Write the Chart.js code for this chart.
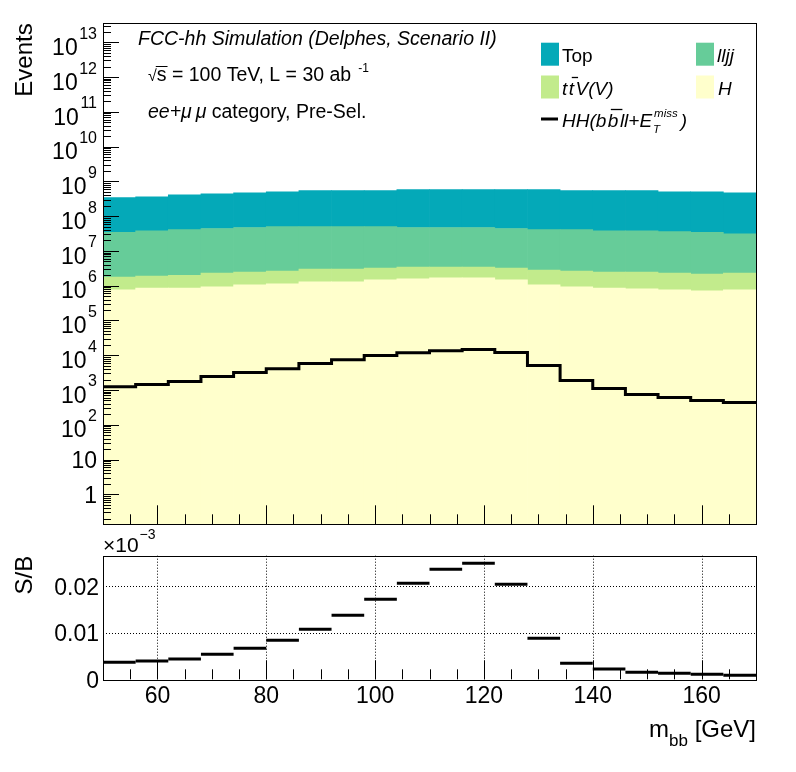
<!DOCTYPE html>
<html><head><meta charset="utf-8">
<script src="https://cdn.jsdelivr.net/npm/chart.js@4.4.0/dist/chart.umd.min.js"></script>
<style>
html,body{margin:0;padding:0;background:#fff;}
#wrap{position:relative;width:796px;height:772px;overflow:hidden;}
canvas{position:absolute;left:0;top:0;}
</style></head><body>
<div id="wrap">
<canvas id="topPanel" width="796" height="772"></canvas>
<canvas id="botPanel" width="796" height="772"></canvas>
</div>
<script>
// ---------- data ----------
const massBins = [53, 59, 65, 71, 77, 83, 89, 95, 101, 107, 113, 119, 125, 131, 137, 143, 149, 155, 161, 167];
const bkgHiggs = [7.6e5, 8.6e5, 8.6e5, 9.2e5, 1.05e6, 1.13e6, 1.29e6, 1.29e6, 1.47e6, 1.57e6, 1.68e6, 1.68e6, 1.47e6, 1.05e6, 9.2e5, 8.6e5, 8.1e5, 7.6e5, 7.1e5, 7.6e5];
const bkgTTV   = [1.0e6, 1.02e6, 1.14e6, 1.37e6, 1.40e6, 1.48e6, 1.69e6, 1.69e6, 1.72e6, 1.83e6, 1.72e6, 1.72e6, 1.72e6, 1.74e6, 1.69e6, 1.59e6, 1.64e6, 1.53e6, 1.43e6, 1.53e6];
const bkgLLJJ  = [3.22e7, 3.61e7, 3.9e7, 4.17e7, 4.46e7, 4.74e7, 4.7e7, 4.7e7, 4.68e7, 4.36e7, 4.36e7, 4.36e7, 4.08e7, 3.82e7, 3.84e7, 3.56e7, 3.56e7, 3.37e7, 3.19e7, 2.87e7];
const bkgTop   = [3.06e8, 3.22e8, 3.69e8, 3.96e8, 4.23e8, 4.5e8, 4.9e8, 4.9e8, 4.9e8, 5.33e8, 5.33e8, 5.33e8, 5.36e8, 5.39e8, 4.99e8, 5.02e8, 5.02e8, 4.64e8, 4.66e8, 4.39e8];
const signalHH = [1233, 1439, 1754, 2443, 3184, 4057, 5768, 7353, 9800, 11700, 13350, 14580, 11960, 5060, 1875, 1104, 743, 608, 499, 437];
const ratioSB  = [0.00366, 0.00394, 0.00437, 0.00538, 0.00667, 0.00839, 0.01075, 0.01376, 0.0172, 0.02065, 0.02366, 0.02495, 0.02043, 0.00882, 0.00344, 0.00222, 0.0015, 0.00129, 0.00108, 0.00086];

const xMajorTicks = [60, 80, 100, 120, 140, 160];
const xTickLabels = ['60', '80', '100', '120', '140', '160'];
const xMinorStep = 5;
const yDecadeExps = [0, 1, 2, 3, 4, 5, 6, 7, 8, 9, 10, 11, 12, 13];
const ratioTicks = [0, 0.01, 0.02];
const ratioTickLabels = ['0', '0.01', '0.02'];

const COL_TOP = '#04a9b8', COL_LLJJ = '#66cc99', COL_TTV = '#c2eb8c', COL_H = '#ffffcc';
const FONT = '"Liberation Sans", Arial, Helvetica, sans-serif';
const fnt = (sz, it) => (it ? 'italic ' : '') + sz + 'px ' + FONT;

function runs(ctx, x, y, parts) {
  for (const p of parts) {
    ctx.font = p.f;
    ctx.fillText(p.t, x + (p.dx || 0), y + (p.dy || 0));
    const w = ctx.measureText(p.t).width;
    if (p.bar) {
      ctx.save(); ctx.lineWidth = 1.3; ctx.beginPath();
      ctx.moveTo(x + (p.dx || 0) + 3, y - p.bar); ctx.lineTo(x + (p.dx || 0) + w + 4, y - p.bar); ctx.stroke(); ctx.restore();
    }
    x += w + (p.dx || 0) + (p.gap || 0);
  }
  return x;
}

const halfBin = (massBins[1] - massBins[0]) / 2;
const sigSteps = [{x: massBins[0] - halfBin, y: signalHH[0]}].concat(
  massBins.map((m, i) => ({x: m + halfBin, y: signalHH[i]})));

function xTicksList() {
  const out = [];
  for (let v = 50 + xMinorStep; v < 170; v += xMinorStep) out.push(v);
  return out;
}

// ---------- top panel decorations ----------
const topDecor = {
  id: 'topDecor',
  afterDatasetsDraw(chart) {
    const {ctx, chartArea: a, scales: {x, y}} = chart;
    ctx.save();
    ctx.strokeStyle = '#000'; ctx.fillStyle = '#000'; ctx.lineWidth = 1;
    ctx.beginPath();
    for (let e = -1; e <= 13; e++) for (let m = 1; m <= 9; m++) {
      const v = m * Math.pow(10, e);
      if (v < y.min || v > y.max) continue;
      const py = Math.round(y.getPixelForValue(v)) + 0.5;
      ctx.moveTo(a.left, py); ctx.lineTo(a.left + (m === 1 ? 16 : 8), py);
    }
    for (const v of xTicksList()) {
      const px = Math.round(x.getPixelForValue(v)) + 0.5;
      ctx.moveTo(px, a.bottom); ctx.lineTo(px, a.bottom - (xMajorTicks.includes(v) ? 19 : 10));
    }
    ctx.stroke();
    ctx.strokeRect(Math.round(a.left) + 0.5, Math.round(a.top) + 0.5, Math.round(a.right - a.left), Math.round(a.bottom - a.top));

    // y labels
    ctx.textAlign = 'right'; ctx.textBaseline = 'alphabetic';
    for (const e of yDecadeExps) {
      const py = y.getPixelForValue(Math.pow(10, e));
      if (e === 0 || e === 1) {
        ctx.font = fnt(23); ctx.fillText(e === 0 ? '1' : '10', 97, py + 8.3);
      } else {
        ctx.font = fnt(16); const es = String(e); const ew = ctx.measureText(es).width;
        ctx.fillText(es, 97, py - 3.5);
        ctx.font = fnt(23); ctx.fillText('10', 97 - ew - 1.5, py + 12.7);
      }
    }
    // axis title
    ctx.save(); ctx.translate(32, a.top); ctx.rotate(-Math.PI / 2);
    ctx.font = fnt(24); ctx.textAlign = 'right'; ctx.fillText('Events', 0, 0); ctx.restore();

    // info text
    ctx.textAlign = 'left';
    ctx.font = fnt(19.5, true); ctx.fillText('FCC-hh Simulation (Delphes, Scenario II)', 138, 45);
    ctx.font = fnt(16);
    ctx.fillText('\u221A', 148, 81);
    const rx = 148 + ctx.measureText('\u221A').width;
    ctx.font = fnt(19.5);
    ctx.fillText('s = 100 TeV, L = 30 ab', rx, 81);
    const sw = ctx.measureText('s').width;
    ctx.lineWidth = 1; ctx.beginPath(); ctx.moveTo(rx - 1, 66.5); ctx.lineTo(rx + sw + 1, 66.5); ctx.stroke();
    const ew2 = ctx.measureText('s = 100 TeV, L = 30 ab').width;
    ctx.font = fnt(12); ctx.fillText('-1', rx + ew2 + 7, 72);
    runs(ctx, 148, 118, [{t: 'ee+\u03BC\u2009\u03BC', f: fnt(19.5, true)}, {t: ' category, Pre-Sel.', f: fnt(19.5)}]);

    // legend
    const sw1 = 18, sh = 23;
    const rows = [54.2, 87, 119];
    ctx.fillStyle = COL_TOP; ctx.fillRect(541, rows[0] - sh / 2, sw1, sh);
    ctx.fillStyle = COL_LLJJ; ctx.fillRect(696, rows[0] - sh / 2, sw1, sh);
    ctx.fillStyle = COL_TTV; ctx.fillRect(541, rows[1] - sh / 2, sw1, sh);
    ctx.fillStyle = COL_H; ctx.fillRect(696, rows[1] - sh / 2, sw1, sh);
    ctx.fillStyle = '#000';
    ctx.lineWidth = 3; ctx.beginPath(); ctx.moveTo(541, rows[2]); ctx.lineTo(558, rows[2]); ctx.stroke();
    ctx.font = fnt(19); ctx.fillText('Top', 562, rows[0] + 7.5);
    ctx.font = fnt(19, true); ctx.fillText('lljj', 717, rows[0] + 7.5);
    ctx.fillText('H', 718, rows[1] + 7.5);
    runs(ctx, 562, rows[1] + 7.5, [
      {t: 't', f: fnt(19, true), gap: 1.5}, {t: 't', f: fnt(19, true), bar: 17, gap: 1.5}, {t: 'V(V)', f: fnt(19, true)}]);
    const b3 = rows[2] + 7.5;
    let xx = runs(ctx, 562, b3, [
      {t: 'HH(b', f: fnt(19, true), gap: 1.5}, {t: 'b', f: fnt(19, true), bar: 17, gap: 1.5}, {t: 'll+E', f: fnt(19, true), gap: 1}]);
    ctx.font = fnt(11.5, true); ctx.fillText('T', xx, b3 + 6);
    ctx.fillText('miss', xx + 1, b3 - 10);
    xx += ctx.measureText('miss').width + 4;
    ctx.font = fnt(19, true); ctx.fillText(')', xx, b3);
    ctx.restore();
  }
};

new Chart(document.getElementById('topPanel'), {
  type: 'bar',
  data: {
    datasets: [
      {label: 'H', data: massBins.map((m, i) => ({x: m, y: bkgHiggs[i]})), backgroundColor: COL_H, order: 1, stack: 'bkg'},
      {label: 'ttV(V)', data: massBins.map((m, i) => ({x: m, y: bkgTTV[i]})), backgroundColor: COL_TTV, order: 1, stack: 'bkg'},
      {label: 'lljj', data: massBins.map((m, i) => ({x: m, y: bkgLLJJ[i]})), backgroundColor: COL_LLJJ, order: 1, stack: 'bkg'},
      {label: 'Top', data: massBins.map((m, i) => ({x: m, y: bkgTop[i]})), backgroundColor: COL_TOP, order: 1, stack: 'bkg'},
      {type: 'line', label: 'HH', data: sigSteps, stepped: 'after', borderColor: '#000', borderWidth: 3,
       pointRadius: 0, fill: false, order: 0, stack: 'sig'}
    ]
  },
  options: {
    responsive: false, animation: false, devicePixelRatio: 1,
    layout: {padding: {left: 103, top: 23.3, right: 40, bottom: 772 - 524.3}},
    plugins: {legend: {display: false}, tooltip: {enabled: false}},
    datasets: {bar: {barPercentage: 1, categoryPercentage: 1, borderWidth: 0}},
    scales: {
      x: {type: 'linear', min: 50, max: 170, display: false, stacked: true, offset: false},
      y: {type: 'logarithmic', min: 0.137, max: 3.52e13, display: false, stacked: true}
    }
  },
  plugins: [topDecor]
});

// ---------- bottom (S/B) panel ----------
const botDecor = {
  id: 'botDecor',
  beforeDatasetsDraw(chart) {
    const {ctx, chartArea: a, scales: {x, y}} = chart;
    ctx.save();
    ctx.strokeStyle = '#000'; ctx.lineWidth = 1; ctx.setLineDash([1, 2]);
    ctx.beginPath();
    for (const v of xMajorTicks) { const px = Math.round(x.getPixelForValue(v)) + 0.5; ctx.moveTo(px, a.top); ctx.lineTo(px, a.bottom); }
    for (const v of ratioTicks) { if (v === 0) continue; const py = Math.round(y.getPixelForValue(v)) + 0.5; ctx.moveTo(a.left, py); ctx.lineTo(a.right, py); }
    ctx.stroke();
    ctx.restore();
  },
  afterDatasetsDraw(chart) {
    const {ctx, chartArea: a, scales: {x, y}} = chart;
    ctx.save();
    ctx.strokeStyle = '#000'; ctx.fillStyle = '#000'; ctx.lineWidth = 1;
    ctx.beginPath();
    for (const v of xTicksList()) {
      const px = Math.round(x.getPixelForValue(v)) + 0.5;
      ctx.moveTo(px, a.bottom); ctx.lineTo(px, a.bottom - (xMajorTicks.includes(v) ? 19 : 10));
    }
    ctx.stroke();
    ctx.strokeRect(Math.round(a.left) + 0.5, Math.round(a.top) + 0.5, Math.round(a.right - a.left), Math.round(a.bottom - a.top));
    ctx.font = fnt(23); ctx.textAlign = 'center';
    xMajorTicks.forEach((v, i) => ctx.fillText(xTickLabels[i], x.getPixelForValue(v), 703));
    ctx.textAlign = 'right';
    ratioTicks.forEach((v, i) => ctx.fillText(ratioTickLabels[i], 99, y.getPixelForValue(v) + 8.3));
    ctx.textAlign = 'left';
    ctx.font = fnt(21); ctx.fillText('\u00D710', 103, 552);
    const w10 = ctx.measureText('\u00D710').width;
    ctx.font = fnt(14); ctx.fillText('\u22123', 103 + w10 + 1, 539);
    ctx.save(); ctx.translate(32, a.top); ctx.rotate(-Math.PI / 2);
    ctx.font = fnt(24); ctx.textAlign = 'right'; ctx.fillText('S/B', 0, 0); ctx.restore();
    // x title, right aligned at plot edge
    ctx.font = fnt(24); const wm = ctx.measureText('m').width; const wg = ctx.measureText(' [GeV]').width;
    ctx.font = fnt(17); const wb = ctx.measureText('bb').width;
    let sx = a.right - (wm + wb + wg);
    ctx.font = fnt(24); ctx.fillText('m', sx, 737);
    ctx.font = fnt(17); ctx.fillText('bb', sx + wm, 746);
    ctx.font = fnt(24); ctx.fillText(' [GeV]', sx + wm + wb, 737);
    ctx.restore();
  }
};

function halfBinPx(chart) {
  const s = chart.scales.x;
  if (!s) return 16;
  return (s.getPixelForValue(massBins[1]) - s.getPixelForValue(massBins[0])) / 2;
}

new Chart(document.getElementById('botPanel'), {
  type: 'scatter',
  data: {
    datasets: [{
      label: 'S/B', data: massBins.map((m, i) => ({x: m, y: ratioSB[i]})),
      pointStyle: 'line', borderColor: '#000', backgroundColor: '#000', borderWidth: 3,
      pointRadius: ctx => halfBinPx(ctx.chart), pointHoverRadius: ctx => halfBinPx(ctx.chart), showLine: false
    }]
  },
  options: {
    responsive: false, animation: false, devicePixelRatio: 1,
    layout: {padding: {left: 103, top: 555.7, right: 40, bottom: 772 - 679.3}},
    plugins: {legend: {display: false}, tooltip: {enabled: false}},
    scales: {
      x: {type: 'linear', min: 50, max: 170, display: false},
      y: {type: 'linear', min: 0, max: 0.02658, display: false}
    }
  },
  plugins: [botDecor]
});
</script>
</body></html>
